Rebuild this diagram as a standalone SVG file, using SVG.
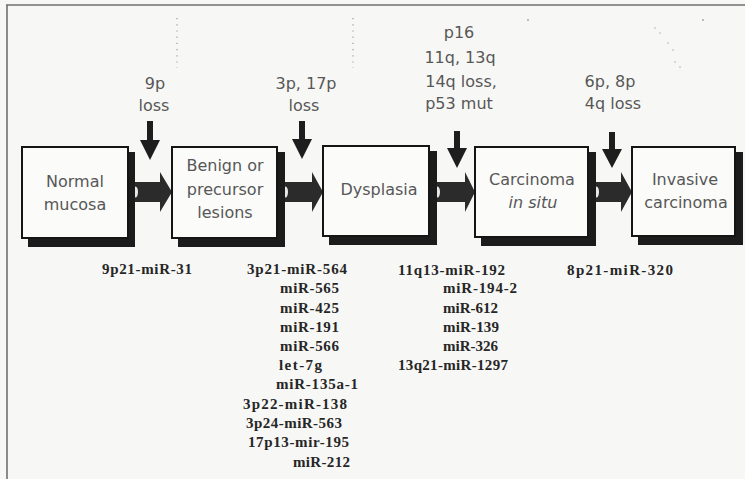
<svg xmlns="http://www.w3.org/2000/svg" width="745" height="479" viewBox="0 0 745 479">
  <defs>
    <style>
      .bg { fill: #f7f7f5; }
      .frame { stroke: #707070; stroke-width: 1.6; fill: none; }
      .dots { stroke: #9a9a9a; stroke-width: 1.2; stroke-dasharray: 1.2 5; fill: none; }
      .dot { fill: #a0a0a0; }
      .box { fill: #fbfbfa; stroke: #151515; stroke-width: 2; }
      .shadow { fill: #1c1c1c; }
      .btxt { font-family: "DejaVu Sans", "Liberation Sans", sans-serif; font-size: 16px; fill: #575757; text-anchor: middle; }
      .ltxt { font-family: "DejaVu Sans", "Liberation Sans", sans-serif; font-size: 16px; fill: #575757; text-anchor: middle; }
      .mir { font-family: "Liberation Serif", "Times New Roman", serif; font-size: 15px; font-weight: bold; fill: #262626; }
      .fat { fill: #2b2b2b; }
      .notch { fill: #e8e8e8; }
      .down { fill: #1e1e1e; }
    </style>
  </defs>

  <rect class="bg" x="0" y="0" width="745" height="479"/>
  <path class="frame" d="M6,5 H745 M7,5 V479"/>

  <!-- faint scan dots -->
  <g id="scan-dots">
    <line class="dots" x1="177" y1="18" x2="177" y2="68"/>
    <line class="dots" x1="353" y1="18" x2="353" y2="68"/>
    <circle class="dot" cx="528" cy="20" r="0.9"/>
    <circle class="dot" cx="703" cy="20" r="0.9"/>
    <circle class="dot" cx="655" cy="28" r="0.7"/>
    <circle class="dot" cx="660" cy="33" r="0.7"/>
    <circle class="dot" cx="668" cy="43" r="0.7"/>
    <circle class="dot" cx="673" cy="50" r="0.7"/>
    <circle class="dot" cx="675" cy="62" r="0.7"/>
    <circle class="dot" cx="680" cy="67" r="0.7"/>
  </g>

  <!-- connectors -->
  <g id="connectors">
    <!-- fat horizontal arrows -->
    <polygon class="fat" points="135,182 160,182 160,172 172,192 160,212 160,202 135,202"/>
    <ellipse class="notch" cx="135.5" cy="192" rx="2.5" ry="5.5"/>
    <polygon class="fat" points="285,182 312,182 312,172 323,192 312,212 312,202 285,202"/>
    <ellipse class="notch" cx="285.5" cy="192" rx="2.5" ry="5.5"/>
    <polygon class="fat" points="437,182 465,182 465,172 475,192 465,212 465,202 437,202"/>
    <ellipse class="notch" cx="437.5" cy="192" rx="2.5" ry="5.5"/>
    <polygon class="fat" points="596,182 621,182 621,172 632,192 621,212 621,202 596,202"/>
    <ellipse class="notch" cx="596.5" cy="192" rx="2.5" ry="5.5"/>

    <!-- down arrows -->
    <polygon class="down" points="147,121 153,121 153,140 160,140 150,160 140,140 147,140"/>
    <polygon class="down" points="299,121 305,121 305,139 312,139 302,159 292,139 299,139"/>
    <polygon class="down" points="454,131 460,131 460,148 467,148 457,168 447,148 454,148"/>
    <polygon class="down" points="609,132 615,132 615,149 622,149 612,168 602,149 609,149"/>
  </g>

  <!-- event labels -->
  <g id="label-9p">
    <text class="ltxt" x="155" y="89">9p</text>
    <text class="ltxt" x="154" y="111">loss</text>
  </g>
  <g id="label-3p17p">
    <text class="ltxt" x="306" y="89">3p, 17p</text>
    <text class="ltxt" x="304" y="111">loss</text>
  </g>
  <g id="label-p16">
    <text class="ltxt" x="459" y="38">p16</text>
    <text class="ltxt" x="460" y="63">11q, 13q</text>
    <text class="ltxt" x="461" y="87">14q loss,</text>
    <text class="ltxt" x="459" y="109">p53 mut</text>
  </g>
  <g id="label-6p8p">
    <text class="ltxt" x="610" y="87">6p, 8p</text>
    <text class="ltxt" x="613" y="109">4q loss</text>
  </g>

  <!-- nodes -->
  <g id="node-normal">
    <polygon class="shadow" points="128,152 135,152 135,247 28,247 28,238 128,238"/>
    <rect class="box" x="22" y="147" width="106" height="91"/>
    <text class="btxt" x="75" y="187">Normal</text>
    <text class="btxt" x="75" y="210">mucosa</text>
  </g>
  <g id="node-benign">
    <polygon class="shadow" points="277,152 285,152 285,247 178,247 178,238 277,238"/>
    <rect class="box" x="172" y="147" width="105" height="91"/>
    <text class="btxt" x="225" y="171">Benign or</text>
    <text class="btxt" x="225" y="195">precursor</text>
    <text class="btxt" x="225" y="218">lesions</text>
  </g>
  <g id="node-dysplasia">
    <polygon class="shadow" points="429,151 437,151 437,245 329,245 329,236 429,236"/>
    <rect class="box" x="323" y="146" width="106" height="90"/>
    <text class="btxt" x="379" y="195">Dysplasia</text>
  </g>
  <g id="node-cis">
    <polygon class="shadow" points="588,152 596,152 596,246 481,246 481,237 588,237"/>
    <rect class="box" x="475" y="147" width="113" height="90"/>
    <text class="btxt" x="532" y="185">Carcinoma</text>
    <text class="btxt" x="533" y="208" font-style="italic">in situ</text>
  </g>
  <g id="node-invasive">
    <polygon class="shadow" points="735,152 743,152 743,245 638,245 638,236 735,236"/>
    <rect class="box" x="632" y="147" width="103" height="89"/>
    <text class="btxt" x="685" y="185">Invasive</text>
    <text class="btxt" x="686" y="208">carcinoma</text>
  </g>

  <!-- miRNA lists -->
  <g id="mir-col1">
    <text class="mir" x="102" y="274" textLength="90" lengthAdjust="spacing">9p21-miR-31</text>
  </g>
  <g id="mir-col2">
    <text class="mir" x="247" y="274" textLength="100" lengthAdjust="spacing">3p21-miR-564</text>
    <text class="mir" x="280" y="293" textLength="59" lengthAdjust="spacing">miR-565</text>
    <text class="mir" x="280" y="313" textLength="59" lengthAdjust="spacing">miR-425</text>
    <text class="mir" x="280" y="332" textLength="59" lengthAdjust="spacing">miR-191</text>
    <text class="mir" x="280" y="351" textLength="59" lengthAdjust="spacing">miR-566</text>
    <text class="mir" x="279" y="370" textLength="43" lengthAdjust="spacing">let-7g</text>
    <text class="mir" x="276" y="389" textLength="82" lengthAdjust="spacing">miR-135a-1</text>
    <text class="mir" x="243" y="409" textLength="104" lengthAdjust="spacing">3p22-miR-138</text>
    <text class="mir" x="246" y="428" textLength="96" lengthAdjust="spacing">3p24-miR-563</text>
    <text class="mir" x="248" y="447" textLength="101" lengthAdjust="spacing">17p13-mir-195</text>
    <text class="mir" x="293" y="467" textLength="57" lengthAdjust="spacing">miR-212</text>
  </g>
  <g id="mir-col3">
    <text class="mir" x="398" y="275" textLength="107" lengthAdjust="spacing">11q13-miR-192</text>
    <text class="mir" x="443" y="293" textLength="74" lengthAdjust="spacing">miR-194-2</text>
    <text class="mir" x="443" y="313" textLength="55" lengthAdjust="spacing">miR-612</text>
    <text class="mir" x="443" y="332" textLength="56" lengthAdjust="spacing">miR-139</text>
    <text class="mir" x="443" y="351" textLength="55" lengthAdjust="spacing">miR-326</text>
    <text class="mir" x="398" y="370" textLength="110" lengthAdjust="spacing">13q21-miR-1297</text>
  </g>
  <g id="mir-col4">
    <text class="mir" x="567" y="275" textLength="106" lengthAdjust="spacing">8p21-miR-320</text>
  </g>
</svg>
